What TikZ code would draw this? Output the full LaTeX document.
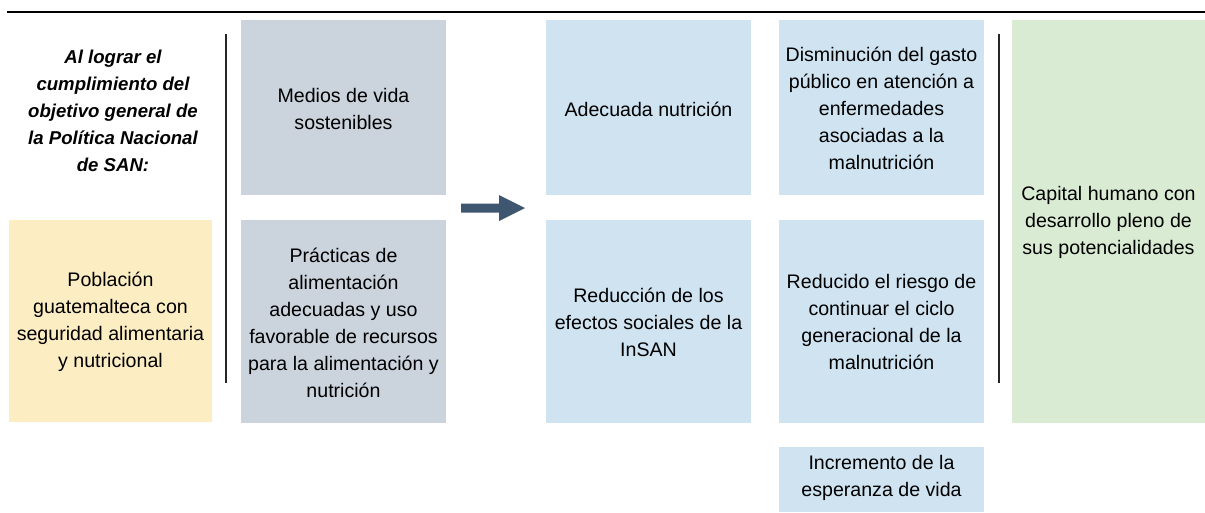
\documentclass[tikz,border=0pt]{standalone}
\usepackage{fontspec}
\setmainfont{Liberation Sans}
\definecolor{cgray}{HTML}{CBD3DD}
\definecolor{cblue}{HTML}{CFE3F1}
\definecolor{cyellow}{HTML}{FCEDC2}
\definecolor{cgreen}{HTML}{DAEBD4}
\definecolor{carrow}{HTML}{3F5670}
\tikzset{
  boxtext/.style={align=center, inner sep=0pt, font=\fontsize{19.6}{27}\selectfont},
  titletext/.style={align=center, inner sep=0pt, font=\fontsize{18.6}{27}\selectfont\bfseries\itshape},
  sep/.style={line width=2pt, black!85},
}
\begin{document}
\begin{tikzpicture}[x=1pt,y=-1pt]
\useasboundingbox (0,0) rectangle (1205,512);
% top rule
\draw[line width=2.2pt] (7,12) -- (1205,12);
% left title
\node[titletext] (title) at (113,111)
  {Al lograr el\\cumplimiento del\\objetivo general de\\la Política Nacional\\de SAN:};
% yellow
\fill[cyellow] (9,220) rectangle (212,422);
\node[boxtext] (pob) at (110.5,322) {Población\\guatemalteca con\\seguridad alimentaria\\y nutricional};
% left separator
\coordinate (l1) at (226,34); \coordinate (l2) at (226,383);
\draw[sep] (l1) -- (l2);
% gray boxes
\fill[cgray] (241,20) rectangle (446,195);
\node[boxtext] (medios) at (343.5,109) {Medios de vida\\sostenibles};
\fill[cgray] (241,220) rectangle (446,423);
\node[boxtext] (prac) at (343.5,323) {Prácticas de\\alimentación\\adecuadas y uso\\favorable de recursos\\para la alimentación y\\nutrición};
% arrow
\fill[carrow] (461,203.5) -- (499,203.5) -- (499,195) -- (525,208) -- (499,221) -- (499,212.5) -- (461,212.5) -- cycle;
% blue column 1
\fill[cblue] (546,20) rectangle (751,195);
\node[boxtext] (nutr) at (648.5,109) {Adecuada nutrición};
\fill[cblue] (546,220) rectangle (751,423);
\node[boxtext] (red) at (648.5,322) {Reducción de los\\efectos sociales de la\\InSAN};
% blue column 2
\fill[cblue] (779,20) rectangle (984,195);
\node[boxtext] (dism) at (881.5,108) {Disminución del gasto\\público en atención a\\enfermedades\\asociadas a la\\malnutrición};
\fill[cblue] (779,220) rectangle (984,423);
\node[boxtext] (riesgo) at (881.5,322) {Reducido el riesgo de\\continuar el ciclo\\generacional de la\\malnutrición};
\fill[cblue] (779,447) rectangle (984,512);
\node[boxtext] (esp) at (881.5,478) {Incremento de la\\esperanza de vida};
% right separator
\coordinate (r1) at (999,34); \coordinate (r2) at (999,383);
\draw[sep] (r1) -- (r2);
% green
\fill[cgreen] (1012,20) rectangle (1205,423);
\node[boxtext] (cap) at (1108.5,222) {Capital humano con\\desarrollo pleno de\\sus potencialidades};
\end{tikzpicture}
\end{document}
